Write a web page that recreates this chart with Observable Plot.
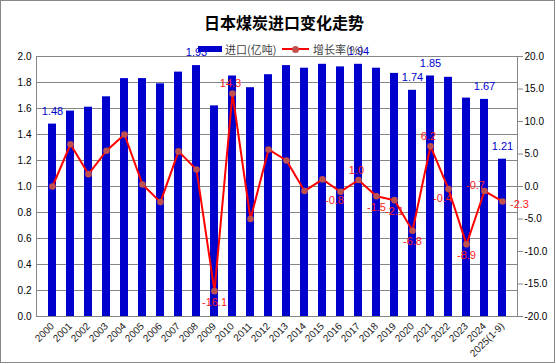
<!DOCTYPE html>
<html><head><meta charset="utf-8">
<script src="https://cdn.jsdelivr.net/npm/d3@7"></script>
<script src="https://cdn.jsdelivr.net/npm/@observablehq/plot@0.6"></script>
<style>
body{margin:0;background:#fff;}
#wrap{position:relative;width:556px;height:364px;overflow:hidden;font-family:"Liberation Sans",Arial,sans-serif;background:#fff;}
#chart{position:absolute;left:0;top:0;}
#border{position:absolute;left:0;top:0;width:553px;height:361px;border:1px solid #888;pointer-events:none;}
#title{position:absolute;left:0;width:568px;top:10px;text-align:center;font:bold 16px "Noto Sans CJK SC",sans-serif;color:#000;line-height:24px;}
.lg{position:absolute;font:11px "Noto Sans CJK SC",sans-serif;color:#404040;line-height:14px;top:42px;}
#sw1{position:absolute;left:198px;top:46px;width:24px;height:6px;background:#0000cc;}
#sw2{position:absolute;left:282px;top:48px;width:27px;height:2px;background:#ff0000;}
#sw2d{position:absolute;left:292px;top:45.5px;width:7px;height:7px;border-radius:50%;background:#c0504d;}
</style>
</head><body>
<div id="wrap">
  <div id="chart"></div>
  <div id="title">日本煤炭进口变化走势</div>
  <div id="sw1"></div><div class="lg" style="left:225px">进口(亿吨)</div>
  <div id="sw2"></div><div id="sw2d"></div><div class="lg" style="left:313px">增长率(%)</div>
  <div id="border"></div>
</div>
<script>
const years = ["2000","2001","2002","2003","2004","2005","2006","2007","2008","2009","2010","2011","2012","2013","2014","2015","2016","2017","2018","2019","2020","2021","2022","2023","2024","2025(1-9)"];
const imports = [1.48,1.58,1.61,1.69,1.83,1.83,1.79,1.88,1.93,1.62,1.85,1.76,1.86,1.93,1.91,1.94,1.92,1.94,1.91,1.87,1.74,1.85,1.84,1.68,1.67,1.21];
const growth = [0.0,6.5,1.9,5.5,8.0,0.3,-2.4,5.4,2.6,-16.1,14.3,-5.0,5.7,4.0,-0.7,1.1,-0.8,1.0,-1.5,-2.1,-6.8,6.2,-0.4,-8.9,-0.7,-2.3];
const leftTicks = [0,0.2,0.4,0.6,0.8,1.0,1.2,1.4,1.6,1.8,2.0];
const rightTicks = [-20,-15,-10,-5,0,5,10,15,20];
const importLabelYears = ["2000","2008","2017","2020","2021","2024","2025(1-9)"];
const growthAbove = ["2010","2017","2021"];
const growthAboveLeft = ["2024"];
const growthBelow = ["2009","2018","2019","2020","2023"];
const growthBelowLeft = ["2016","2022"];
const growthRight = ["2025(1-9)"];

const toY = v => (v + 20) / 20;
const rows = years.map((y, i) => ({year: y, imp: imports[i], g: growth[i]}));
const gy = d => toY(d.g);
const fmt1 = d => d.g.toFixed(1);
const lblFont = {fontSize: 11, fill: "#ff2020", text: fmt1};
const pick = list => rows.filter(d => list.includes(d.year));

const plot = Plot.plot({
  width: 556, height: 364,
  marginLeft: 36, marginRight: 39, marginTop: 56, marginBottom: 48,
  style: {fontFamily: "'Liberation Sans', Arial, sans-serif", fontSize: "10px", background: "transparent", color: "#000"},
  x: {type: "band", domain: years, padding: 0, label: null},
  y: {domain: [0, 2], label: null},
  marks: [
    Plot.gridY(leftTicks, {stroke: "#868686", strokeOpacity: 1}),
    Plot.frame({stroke: "#868686"}),
    Plot.barY(rows, {x: "year", y: "imp", fill: "#0000cc", insetLeft: 5, insetRight: 5}),
    Plot.line(rows, {x: "year", y: gy, stroke: "#ff0000", strokeWidth: 2}),
    Plot.dot(rows, {x: "year", y: gy, r: 3.3, fill: "#c0504d", stroke: "none"}),
    Plot.text(pick(importLabelYears), {x: "year", y: "imp", text: d => d.imp.toFixed(2), dy: -13, fill: "#0000cc", fontSize: 11}),
    Plot.text(pick(growthAbove), {x: "year", y: gy, dy: -10, dx: -2, ...lblFont}),
    Plot.text(pick(growthAboveLeft), {x: "year", y: gy, dy: -6, dx: -9, ...lblFont}),
    Plot.text(pick(growthBelow), {x: "year", y: gy, dy: 11, ...lblFont}),
    Plot.text(pick(growthBelowLeft), {x: "year", y: gy, dy: 9, dx: -6, ...lblFont}),
    Plot.text(pick(growthRight), {x: "year", y: gy, dx: 17, dy: 3, ...lblFont}),
    Plot.axisY({ticks: leftTicks, tickSize: 0, tickPadding: 5, tickFormat: d => d.toFixed(1), label: null, fontSize: 10}),
    Plot.axisY({anchor: "right", ticks: rightTicks.map(toY), tickSize: 5, tickPadding: 2, stroke: "#868686", fill: "#000", tickFormat: d => (d * 20 - 20).toFixed(1), label: null, fontSize: 10}),
    Plot.axisX({tickRotate: -45, tickSize: 0, tickPadding: 8, label: null, fontSize: 10, fill: "#222"})
  ]
});
document.getElementById("chart").appendChild(plot);
</script>
</body></html>
